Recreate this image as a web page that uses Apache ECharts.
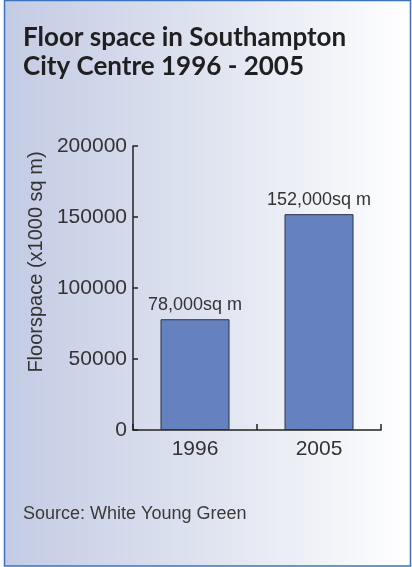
<!DOCTYPE html>
<html>
<head>
<meta charset="utf-8">
<script src="https://cdn.jsdelivr.net/npm/echarts@6/dist/echarts.min.js"></script>
<style>
  html, body { margin: 0; padding: 0; background: #ffffff; }
  #chart { width: 412px; height: 567px; }
</style>
</head>
<body>
<div id="chart"></div>
<script>
// Floor space figures for Southampton city centre
const years = ['1996', '2005'];
const floorspace = [78000, 152000];
const yTicks = { min: 0, max: 200000, interval: 50000 };

const titleText = 'Floor space in Southampton\nCity Centre 1996 - 2005';
const sourceText = 'Source: White Young Green';
const axisName = 'Floorspace (x1000 sq m)';

const FONT = '"Liberation Sans", Arial, Helvetica, sans-serif';
const fmtValue = v => v.toLocaleString('en-US') + 'sq m';

const chart = echarts.init(document.getElementById('chart'), null, { renderer: 'canvas' });

chart.setOption({
  animation: false,
  textStyle: { fontFamily: FONT },
  graphic: [
    {
      type: 'rect',
      z: -10,
      silent: true,
      shape: { x: 4.5, y: 0.5, width: 406, height: 565.5 },
      style: {
        fill: new echarts.graphic.LinearGradient(0, 0, 1, 0, [
          { offset: 0, color: '#c3cbe4' },
          { offset: 0.55, color: '#e2e6f1' },
          { offset: 1, color: '#ffffff' }
        ]),
        stroke: '#3b74bd',
        lineWidth: 1.5
      }
    },
    {
      type: 'text',
      left: 23,
      top: 505,
      silent: true,
      style: {
        text: sourceText,
        font: '18px "Liberation Sans", Arial, sans-serif',
        fill: '#3a3a3a'
      }
    }
  ],
  title: {
    text: titleText,
    left: 18,
    top: 18,
    textStyle: {
      fontFamily: 'Lato, "Open Sans", sans-serif',
      fontWeight: 'bold',
      fontSize: 26,
      lineHeight: 29,
      color: '#1f1f1f'
    }
  },
  grid: { left: 133, right: 31, top: 146, bottom: 137 },
  xAxis: {
    type: 'category',
    data: years,
    axisLine: { lineStyle: { color: '#222222', width: 1.5 } },
    axisTick: { show: true, inside: true, length: 6, alignWithLabel: false, lineStyle: { color: '#222222', width: 1.5 } },
    axisLabel: { fontFamily: FONT, fontSize: 21, color: '#333333', margin: 9 }
  },
  yAxis: {
    type: 'value',
    min: yTicks.min,
    max: yTicks.max,
    interval: yTicks.interval,
    name: axisName,
    nameLocation: 'middle',
    nameRotate: 90,
    nameGap: 86,
    nameTextStyle: { fontFamily: FONT, fontSize: 20, color: '#333333', padding: [0, 0, 0, 52] },
    splitLine: { show: false },
    axisLine: { show: true, lineStyle: { color: '#222222', width: 1.5 } },
    axisTick: { show: true, inside: true, length: 5, lineStyle: { color: '#222222', width: 1.5 } },
    axisLabel: { fontFamily: FONT, fontSize: 21, color: '#333333', margin: 6, formatter: v => String(v) }
  },
  series: [{
    type: 'bar',
    data: floorspace,
    barWidth: 69,
    itemStyle: { color: '#6681bf', borderColor: '#2b3148', borderWidth: 1 },
    label: {
      show: true,
      position: 'top',
      distance: 5,
      fontFamily: FONT,
      fontSize: 18,
      color: '#333333',
      formatter: p => fmtValue(p.value)
    }
  }]
});
</script>
</body>
</html>
